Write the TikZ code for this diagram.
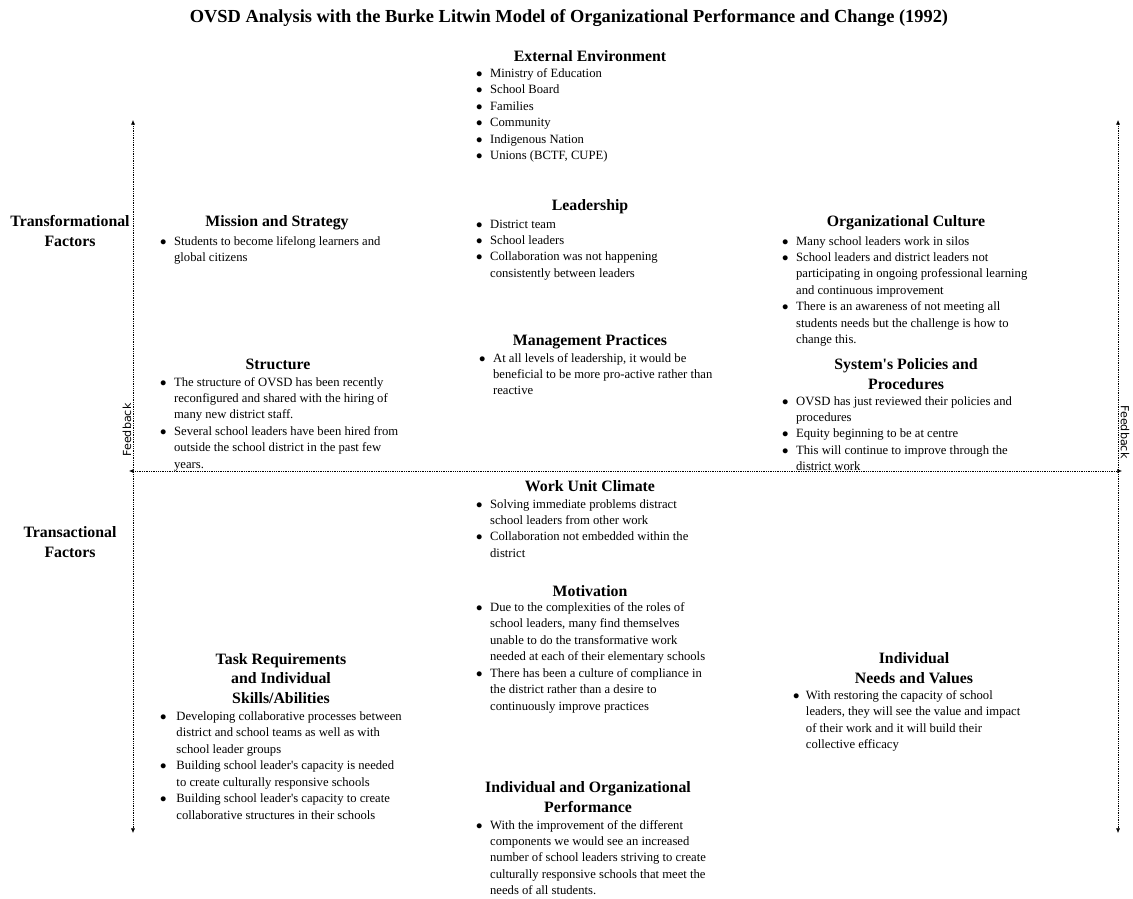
\documentclass[tikz,border=0pt]{standalone}
\usepackage{fontspec}
\setmainfont{Liberation Serif}
\newfontfamily\fbfont{DejaVu Sans}
\usetikzlibrary{arrows.meta}

\newcommand{\hdfont}{\fontsize{13.5}{17}\selectfont\bfseries}
\newcommand{\txfont}{\fontsize{10.8}{14.05}\selectfont}
\newcommand{\q}{\textquotesingle}
\newcommand{\bul}{$\bullet$}
\newenvironment{blist}[1][6.4pt]{\begin{tabular}[t]{@{}c@{\hspace{#1}}l@{}}}{\end{tabular}}

\begin{document}
\begin{tikzpicture}[
  x=0.03cm, y=-0.03cm,
  ttl/.style={font=\fontsize{15.7}{19}\selectfont\bfseries, inner sep=0pt},
  hd/.style={font=\hdfont, align=center, inner sep=0pt},
  lst/.style={font=\txfont, anchor=base west, inner sep=0pt},
  fb/.style={line width=0.5pt, dash pattern=on 0.5pt off 1pt, {Latex[length=4pt,width=3.5pt]}-{Latex[length=4pt,width=3.5pt]}},
  fblabel/.style={font=\fbfont\fontsize{9.5}{11}\selectfont, inner sep=0pt}
]
\useasboundingbox (0,0) rectangle (1133,898);

% title
\node[ttl] (title) at (569,18) {OVSD Analysis with the Burke Litwin Model of Organizational Performance and Change (1992)};

% feedback arrows
\coordinate (hL) at (129,471);
\coordinate (hR) at (1122,471);
\coordinate (lT) at (133,120);
\coordinate (lB) at (133,833);
\coordinate (rT) at (1118,120);
\coordinate (rB) at (1118,833);
\draw[fb] (hL) -- (hR);
\draw[fb] (lT) -- (lB);
\draw[fb] (rT) -- (rB);
\node[fblabel, rotate=90] (fbl) at (127,430) {Feedback};
\node[fblabel, rotate=-90] (fbr) at (1125,432) {Feedback};

% side labels
\node[hd] (trf) at (70,231) {Transformational\\Factors};
\node[hd] (trc) at (70,542.5) {Transactional\\Factors};

% external environment
\node[hd] (ext) at (590,56.5) {External Environment};
\node[lst] (ext-l) at (476,77.5) {\begin{blist}
\bul & Ministry of Education\\
\bul & School Board\\
\bul & Families\\
\bul & Community\\
\bul & Indigenous Nation\\
\bul & Unions (BCTF, CUPE)
\end{blist}};

% transformational row
\node[hd] (mis) at (277,222.5) {Mission and Strategy};
\node[lst] (mis-l) at (160,245) {\begin{blist}
\bul & Students to become lifelong learners and\\
 & global citizens
\end{blist}};

\node[hd] (lead) at (590,206.5) {Leadership};
\node[lst] (lead-l) at (476,228) {\begin{blist}
\bul & District team\\
\bul & School leaders\\
\bul & Collaboration was not happening\\
 & consistently between leaders
\end{blist}};

\node[hd] (cul) at (906,222.5) {Organizational Culture};
\node[lst] (cul-l) at (782,245) {\begin{blist}
\bul & Many school leaders work in silos\\
\bul & School leaders and district leaders not\\
 & participating in ongoing professional learning\\
 & and continuous improvement\\
\bul & There is an awareness of not meeting all\\
 & students needs but the challenge is how to\\
 & change this.
\end{blist}};

\node[hd] (mgt) at (590,341.5) {Management Practices};
\node[lst] (mgt-l) at (479,362) {\begin{blist}
\bul & At all levels of leadership, it would be\\
 & beneficial to be more pro-active rather than\\
 & reactive
\end{blist}};

\node[hd] (str) at (278,364) {Structure};
\node[lst] (str-l) at (160,386) {\begin{blist}
\bul & The structure of OVSD has been recently\\
 & reconfigured and shared with the hiring of\\
 & many new district staff.\\
\bul & Several school leaders have been hired from\\
 & outside the school district in the past few\\
 & years.
\end{blist}};

\node[hd] (pol) at (906,374) {System\q s Policies and\\Procedures};
\node[lst] (pol-l) at (782,405) {\begin{blist}
\bul & OVSD has just reviewed their policies and\\
 & procedures\\
\bul & Equity beginning to be at centre\\
\bul & This will continue to improve through the\\
 & district work
\end{blist}};

% transactional row
\node[hd] (wuc) at (590,486.5) {Work Unit Climate};
\node[lst] (wuc-l) at (476,508) {\begin{blist}
\bul & Solving immediate problems distract\\
 & school leaders from other work\\
\bul & Collaboration not embedded within the\\
 & district
\end{blist}};

\node[hd] (mot) at (590,591) {Motivation};
\node[lst] (mot-l) at (476,611.5) {\begin{blist}
\bul & Due to the complexities of the roles of\\
 & school leaders, many find themselves\\
 & unable to do the transformative work\\
 & needed at each of their elementary schools\\
\bul & There has been a culture of compliance in\\
 & the district rather than a desire to\\
 & continuously improve practices
\end{blist}};

\node[hd] (task) at (281,678.5) {Task Requirements\\and Individual\\Skills/Abilities};
\node[lst] (task-l) at (160,720.5) {\begin{blist}[8.4pt]
\bul & Developing collaborative processes between\\
 & district and school teams as well as with\\
 & school leader groups\\
\bul & Building school leader\q s capacity is needed\\
 & to create culturally responsive schools\\
\bul & Building school leader\q s capacity to create\\
 & collaborative structures in their schools
\end{blist}};

\node[hd] (need) at (914,668) {Individual\\Needs and Values};
\node[lst] (need-l) at (793,699.5) {\begin{blist}[5.4pt]
\bul & With restoring the capacity of school\\
 & leaders, they will see the value and impact\\
 & of their work and it will build their\\
 & collective efficacy
\end{blist}};

\node[hd] (perf) at (588,797) {Individual and Organizational\\Performance};
\node[lst] (perf-l) at (476,829) {\begin{blist}
\bul & With the improvement of the different\\
 & components we would see an increased\\
 & number of school leaders striving to create\\
 & culturally responsive schools that meet the\\
 & needs of all students.
\end{blist}};
\end{tikzpicture}
\end{document}
